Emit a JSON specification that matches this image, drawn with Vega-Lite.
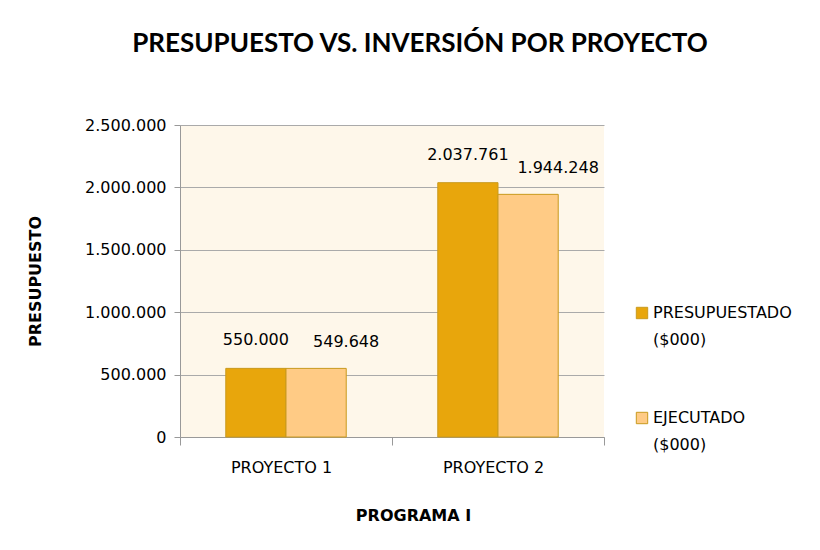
{
  "$schema": "https://vega.github.io/schema/vega-lite/v6.json",
  "autosize": {"type": "none"},
  "width": 424,
  "height": 312,
  "padding": {"left": 180, "top": 125, "right": 216, "bottom": 113},
  "background": "white",
  "config": {
    "locale": {"number": {"decimal": ",", "thousands": ".", "grouping": [3], "currency": ["$", ""]}},
    "view": {"fill": "#FEF7EA", "stroke": null},
    "font": "DejaVu Sans"
  },
  "title": {
    "text": "PRESUPUESTO VS. INVERSIÓN POR PROYECTO",
    "font": "Lato",
    "fontSize": 26,
    "fontWeight": "bold",
    "color": "black",
    "anchor": "middle",
    "frame": "group",
    "dx": 28,
    "offset": 60
  },
  "data": {
    "values": [
      {"proyecto": "PROYECTO  1", "serie": "PRESUPUESTADO ($000)", "valor": 550000},
      {"proyecto": "PROYECTO  1", "serie": "EJECUTADO ($000)", "valor": 549648},
      {"proyecto": "PROYECTO  2", "serie": "PRESUPUESTADO ($000)", "valor": 2037761},
      {"proyecto": "PROYECTO  2", "serie": "EJECUTADO ($000)", "valor": 1944248}
    ]
  },
  "encoding": {
    "x": {
      "field": "proyecto",
      "type": "nominal",
      "scale": {"paddingInner": 0, "paddingOuter": 0},
      "axis": {
        "title": "PROGRAMA I",
        "titleFont": "DejaVu Sans",
        "titleFontSize": 16,
        "titleFontWeight": "bold",
        "titleColor": "black",
        "titleX": 233,
        "titleY": 78,
        "titleBaseline": "middle",
        "labelAngle": 0,
        "labelFontSize": 16,
        "labelColor": "black",
        "labelPadding": 14,
        "labelOffset": -5,
        "tickBand": "extent",
        "tickSize": 8,
        "tickColor": "#999999",
        "domainColor": "#999999"
      }
    },
    "xOffset": {
      "field": "serie",
      "type": "nominal",
      "sort": ["PRESUPUESTADO ($000)", "EJECUTADO ($000)"],
      "scale": {"paddingInner": 0, "paddingOuter": 0.76}
    },
    "y": {
      "field": "valor",
      "type": "quantitative",
      "scale": {"domain": [0, 2500000]},
      "axis": {
        "title": "PRESUPUESTO",
        "titleFont": "DejaVu Sans",
        "titleFontSize": 16,
        "titleFontWeight": "bold",
        "titleColor": "black",
        "titleX": -145,
        "titleY": 156,
        "titleAngle": -90,
        "titleAlign": "center",
        "titleBaseline": "middle",
        "values": [0, 500000, 1000000, 1500000, 2000000, 2500000],
        "format": ",d",
        "labelFontSize": 16,
        "labelColor": "black",
        "labelPadding": 8,
        "tickSize": 6,
        "tickColor": "#999999",
        "domainColor": "#999999",
        "gridColor": "#AAAAAA"
      }
    }
  },
  "layer": [
    {
      "mark": {"type": "bar", "stroke": "#C99A1E", "strokeWidth": 1},
      "encoding": {
        "color": {
          "field": "serie",
          "type": "nominal",
          "scale": {"domain": ["PRESUPUESTADO ($000)", "EJECUTADO ($000)"], "range": ["#E8A60C", "#FFCB85"]},
          "legend": {
            "title": null,
            "orient": "none",
            "legendX": 454,
            "legendY": 180,
            "symbolType": "square",
            "symbolSize": 130,
            "symbolStrokeColor": "#C99A1E",
            "symbolStrokeWidth": 1,
            "labelFontSize": 16,
            "labelColor": "black",
            "labelOffset": 3,
            "labelExpr": "datum.label == 'PRESUPUESTADO ($000)' ? ['PRESUPUESTADO', '($000)'] : ['EJECUTADO', '($000)']",
            "labelLimit": 300,
            "rowPadding": 62,
            "encode": {"labels": {"update": {"lineHeight": {"value": 27}}}}
          }
        }
      }
    },
    {
      "transform": [{"filter": "datum.serie == 'PRESUPUESTADO ($000)'"}],
      "mark": {"type": "text", "baseline": "bottom", "dy": -20, "dx": 0, "fontSize": 16, "color": "black"},
      "encoding": {"text": {"field": "valor", "type": "quantitative", "format": ",d"}}
    },
    {
      "transform": [{"filter": "datum.serie == 'EJECUTADO ($000)'"}],
      "mark": {"type": "text", "baseline": "bottom", "dy": -18, "dx": 30, "fontSize": 16, "color": "black"},
      "encoding": {"text": {"field": "valor", "type": "quantitative", "format": ",d"}}
    }
  ]
}
